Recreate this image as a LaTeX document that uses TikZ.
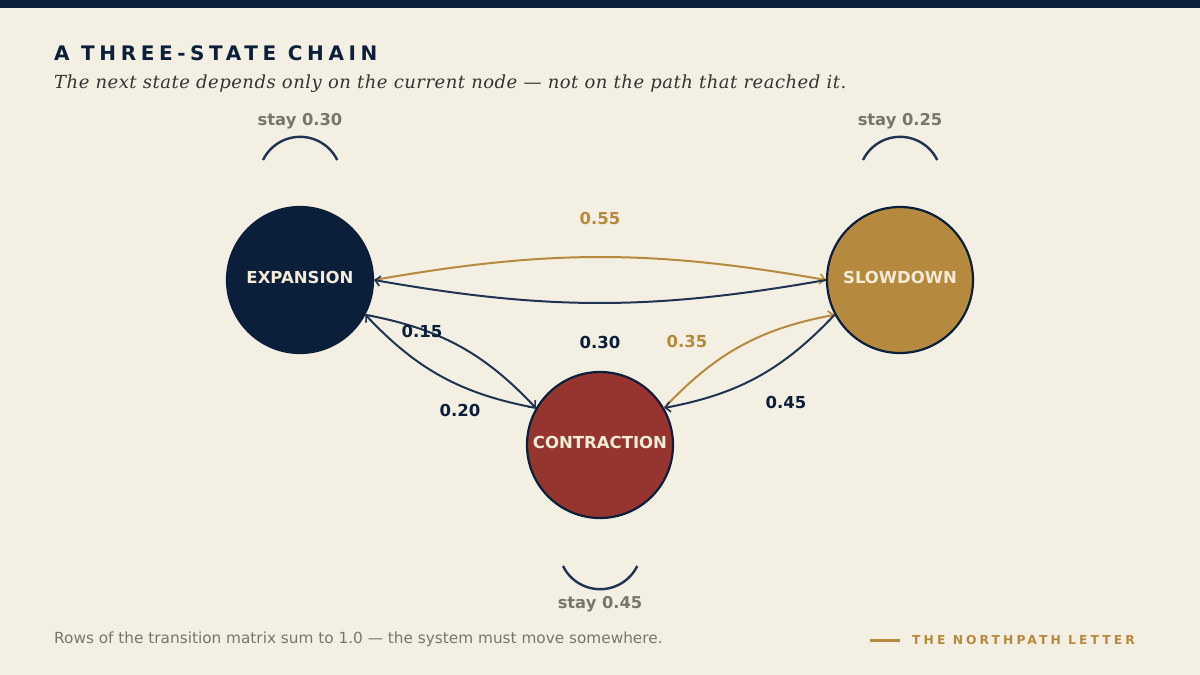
\documentclass[tikz,border=0pt]{standalone}
\usepackage{fontspec}
\setmainfont{DejaVu Sans}
\newfontfamily\titlefont[LetterSpace=23]{DejaVu Sans}
\newfontfamily\brandfont[LetterSpace=25]{DejaVu Sans}
\newfontfamily\subfont[LetterSpace=2.7]{DejaVu Serif}
\usetikzlibrary{arrows.meta}
\usetikzlibrary{positioning}

\definecolor{paper}{HTML}{F3EFE3}
\definecolor{navy}{HTML}{0B1F3A}
\definecolor{wire}{HTML}{1F3352}
\definecolor{gold}{HTML}{B68A3E}
\definecolor{rust}{HTML}{963530}
\definecolor{muted}{HTML}{7A756C}
\definecolor{cream}{HTML}{F4EAD8}

\begin{document}
\begin{tikzpicture}[x=1pt, y=1pt, every node/.style={inner sep=0pt},
    state/.style={circle, draw=navy, line width=2.2pt, minimum size=146pt,
      font=\fontsize{16.5}{18}\selectfont\bfseries, text=cream, text depth=6pt},
    trans/.style={line width=2pt, -{Straight Barb[length=5pt,width=10pt,line width=1.6pt]}},
    elabel/.style={font=\fontsize{16.5}{18}\selectfont\bfseries},
    stay/.style={anchor=base, font=\fontsize{16.3}{18}\selectfont\bfseries, text=muted},
    loopline/.style={draw=wire, line width=2.4pt}]
    % canvas
    \fill[paper] (0,0) rectangle (1200,-675);
    \useasboundingbox (0,0) rectangle (1200,-675);
    \fill[navy] (0,0) rectangle (1200,-8);

    % heading
    \node[anchor=base west, text=navy] (title) at (54,-60)
      {\titlefont\fontsize{20}{24}\selectfont\bfseries A THREE-STATE CHAIN};
    \node[anchor=base west, text=black!80] (sub) at (54,-88)
      {\subfont\fontsize{18}{22}\selectfont\itshape The next state depends only on the current node — not on the path that reached it.};

    % states
    \node[state, fill=navy] (exp) at (300,-280) {EXPANSION};
    \node[state, fill=gold] (slow) at (900,-280) {SLOWDOWN};
    \node[state, fill=rust] (con) at (600,-445) {CONTRACTION};

    % transitions
    \draw[trans, gold] (exp.0) to[bend left=10] (slow.180);
    \draw[trans, wire] (slow.180) to[bend left=10] (exp.0);
    \draw[trans, wire] (exp.-28) to[bend left=18] (con.150);
    \draw[trans, wire] (con.150) to[bend left=18] (exp.-28);
    \draw[trans, gold] (con.30) to[bend left=18] (slow.-152);
    \draw[trans, wire] (slow.-152) to[bend left=18] (con.30);

    \node[elabel, text=gold] (p55) at (600,-218) {0.55};
    \node[elabel, text=navy] (p30) at (600,-342) {0.30};
    \node[elabel, text=navy] (p15) at (422,-331) {0.15};
    \node[elabel, text=navy] (p20) at (460,-410) {0.20};
    \node[elabel, text=gold] (p35) at (687,-341) {0.35};
    \node[elabel, text=navy] (p45) at (786,-402) {0.45};

    % self loops
    \draw[loopline] ([xshift=-37pt,yshift=120pt]exp.center) arc[start angle=154, end angle=26, radius=41.3pt];
    \draw[loopline] ([xshift=-37pt,yshift=120pt]slow.center) arc[start angle=154, end angle=26, radius=41.3pt];
    \draw[loopline] ([xshift=-37pt,yshift=-121pt]con.center) arc[start angle=206, end angle=334, radius=41.3pt];
    \node[stay] (sexp) at (300,-125) {stay 0.30};
    \node[stay] (sslow) at (900,-125) {stay 0.25};
    \node[stay] (scon) at (600,-608) {stay 0.45};

    % footer
    \node[anchor=base west, text=muted, font=\fontsize{15.3}{17}\selectfont] (note) at (54,-643)
      {Rows of the transition matrix sum to 1.0 — the system must move somewhere.};
    \node[anchor=base west, text=gold] (brand) at (912,-644)
      {\brandfont\fontsize{12.3}{15}\selectfont\bfseries THE NORTHPATH LETTER};
    \draw[gold, line width=3pt] ([xshift=-12pt,yshift=4pt]brand.base west) -- ++(-30,0);
\end{tikzpicture}
\end{document}
